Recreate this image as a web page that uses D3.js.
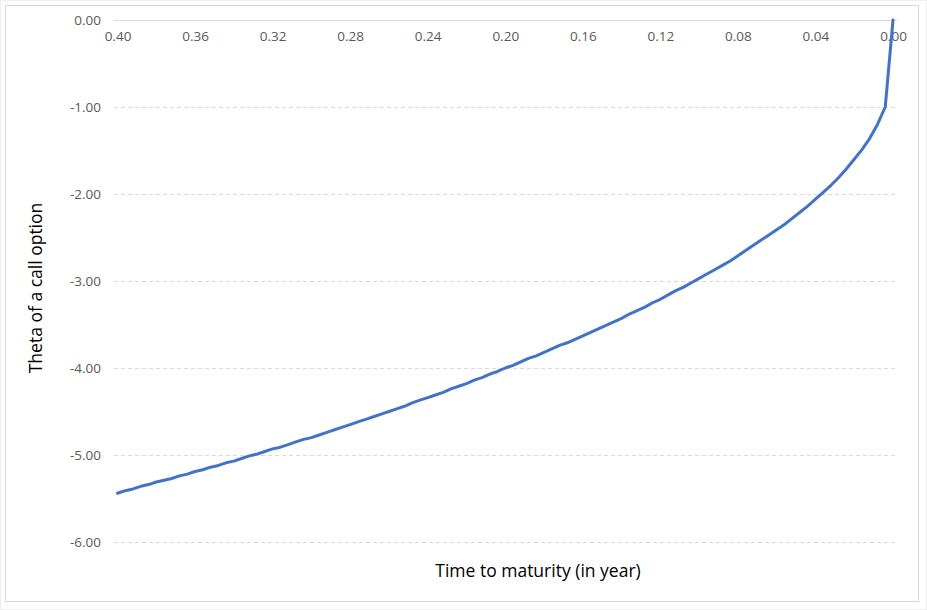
<!DOCTYPE html>
<html>
<head>
<meta charset="utf-8">
<script src="https://cdn.jsdelivr.net/npm/d3@7/dist/d3.min.js"></script>
<style>
  html, body { margin: 0; padding: 0; background: #fff; }
  svg { display: block; }
</style>
</head>
<body>
<svg id="chart" width="927" height="610"></svg>
<script>
// Time to maturity (years), from 0.400 down to 0.000 step 0.004
const maturities = [
  0.400,0.396,0.392,0.388,0.384,0.380,0.376,0.372,0.368,0.364,
  0.360,0.356,0.352,0.348,0.344,0.340,0.336,0.332,0.328,0.324,
  0.320,0.316,0.312,0.308,0.304,0.300,0.296,0.292,0.288,0.284,
  0.280,0.276,0.272,0.268,0.264,0.260,0.256,0.252,0.248,0.244,
  0.240,0.236,0.232,0.228,0.224,0.220,0.216,0.212,0.208,0.204,
  0.200,0.196,0.192,0.188,0.184,0.180,0.176,0.172,0.168,0.164,
  0.160,0.156,0.152,0.148,0.144,0.140,0.136,0.132,0.128,0.124,
  0.120,0.116,0.112,0.108,0.104,0.100,0.096,0.092,0.088,0.084,
  0.080,0.076,0.072,0.068,0.064,0.060,0.056,0.052,0.048,0.044,
  0.040,0.036,0.032,0.028,0.024,0.020,0.016,0.012,0.008,0.004,
  0.000
];
// Theta of a call option
const thetaValues = [
  -5.44,-5.41,-5.39,-5.36,-5.34,-5.31,-5.29,-5.27,-5.24,-5.22,
  -5.19,-5.17,-5.14,-5.12,-5.09,-5.07,-5.04,-5.01,-4.99,-4.96,
  -4.93,-4.91,-4.88,-4.85,-4.82,-4.80,-4.77,-4.74,-4.71,-4.68,
  -4.65,-4.62,-4.59,-4.56,-4.53,-4.50,-4.47,-4.44,-4.40,-4.37,
  -4.34,-4.31,-4.28,-4.24,-4.21,-4.18,-4.14,-4.11,-4.07,-4.04,
  -4.00,-3.97,-3.93,-3.89,-3.86,-3.82,-3.78,-3.74,-3.71,-3.67,
  -3.63,-3.59,-3.55,-3.51,-3.47,-3.43,-3.38,-3.34,-3.30,-3.25,
  -3.21,-3.16,-3.11,-3.07,-3.02,-2.97,-2.92,-2.87,-2.82,-2.77,
  -2.71,-2.65,-2.59,-2.53,-2.47,-2.41,-2.35,-2.28,-2.21,-2.14,
  -2.06,-1.98,-1.90,-1.81,-1.71,-1.60,-1.49,-1.36,-1.20,-1.00,
  0.00
];
const xTickValues = [0.40,0.36,0.32,0.28,0.24,0.20,0.16,0.12,0.08,0.04,0.00];
const yTickValues = [0,-1,-2,-3,-4,-5,-6];
const xTitle = "Time to maturity (in year)";
const yTitle = "Theta of a call option";

const data = maturities.map((t, i) => ({ t, v: thetaValues[i] }));

const svg = d3.select("#chart");
const fontFam = "'Open Sans', 'Liberation Sans', Arial, sans-serif";

// outer frames
svg.append("rect").attr("x", 0.5).attr("y", 0.5).attr("width", 926).attr("height", 609)
  .attr("fill", "#fff").attr("stroke", "#efefef");
svg.append("rect").attr("x", 5.5).attr("y", 5.5).attr("width", 913).attr("height", 596)
  .attr("fill", "#fff").attr("stroke", "#d9d9d9");

const x = d3.scaleLinear().domain([0.4, 0]).range([117.5, 893]);
const y = d3.scaleLinear().domain([0, -6]).range([20, 542]);
const gridX0 = 114, gridX1 = 897;

// gridlines
const gridG = svg.append("g");
gridG.selectAll("line.grid").data(yTickValues.filter(d => d !== 0)).enter().append("line")
  .attr("x1", gridX0).attr("x2", gridX1)
  .attr("y1", d => Math.round(y(d)) + 0.5).attr("y2", d => Math.round(y(d)) + 0.5)
  .attr("stroke", "#d9d9d9").attr("stroke-width", 1).attr("stroke-dasharray", "4,3");
// axis line at zero (top)
gridG.append("line").attr("x1", gridX0).attr("x2", gridX1)
  .attr("y1", Math.round(y(0)) + 0.5).attr("y2", Math.round(y(0)) + 0.5)
  .attr("stroke", "#d9d9d9").attr("stroke-width", 1);

// y axis labels
const yAxis = d3.axisLeft(y).tickValues(yTickValues).tickFormat(d => d3.format(".2f")(d).replace("−", "-")).tickSize(0).tickPadding(0);
const yg = svg.append("g").attr("transform", "translate(101,0)").call(yAxis);
yg.select(".domain").remove();
yg.selectAll("text").attr("font-family", fontFam).attr("font-size", 13.5).attr("fill", "#595959");

// x axis labels (below the zero line)
const xAxis = d3.axisBottom(x).tickValues(xTickValues).tickFormat(d3.format(".2f")).tickSize(0).tickPadding(0);
const xg = svg.append("g").attr("transform", "translate(0,31)").call(xAxis);
xg.select(".domain").remove();
xg.selectAll("text").attr("font-family", fontFam).attr("font-size", 13.5).attr("fill", "#595959");

// line
const line = d3.line().x(d => x(d.t)).y(d => y(d.v));
svg.append("path").datum(data).attr("d", line)
  .attr("fill", "none").attr("stroke", "#4472C4").attr("stroke-width", 3)
  .attr("stroke-linejoin", "round").attr("stroke-linecap", "round");

// axis titles
svg.append("text").attr("x", 538).attr("y", 577).attr("text-anchor", "middle")
  .attr("font-family", fontFam).attr("font-size", 17.5).attr("fill", "#000").text(xTitle);
svg.append("text").attr("transform", "translate(42,288) rotate(-90)").attr("text-anchor", "middle")
  .attr("font-family", fontFam).attr("font-size", 17.5).attr("fill", "#000").text(yTitle);
</script>
</body>
</html>
